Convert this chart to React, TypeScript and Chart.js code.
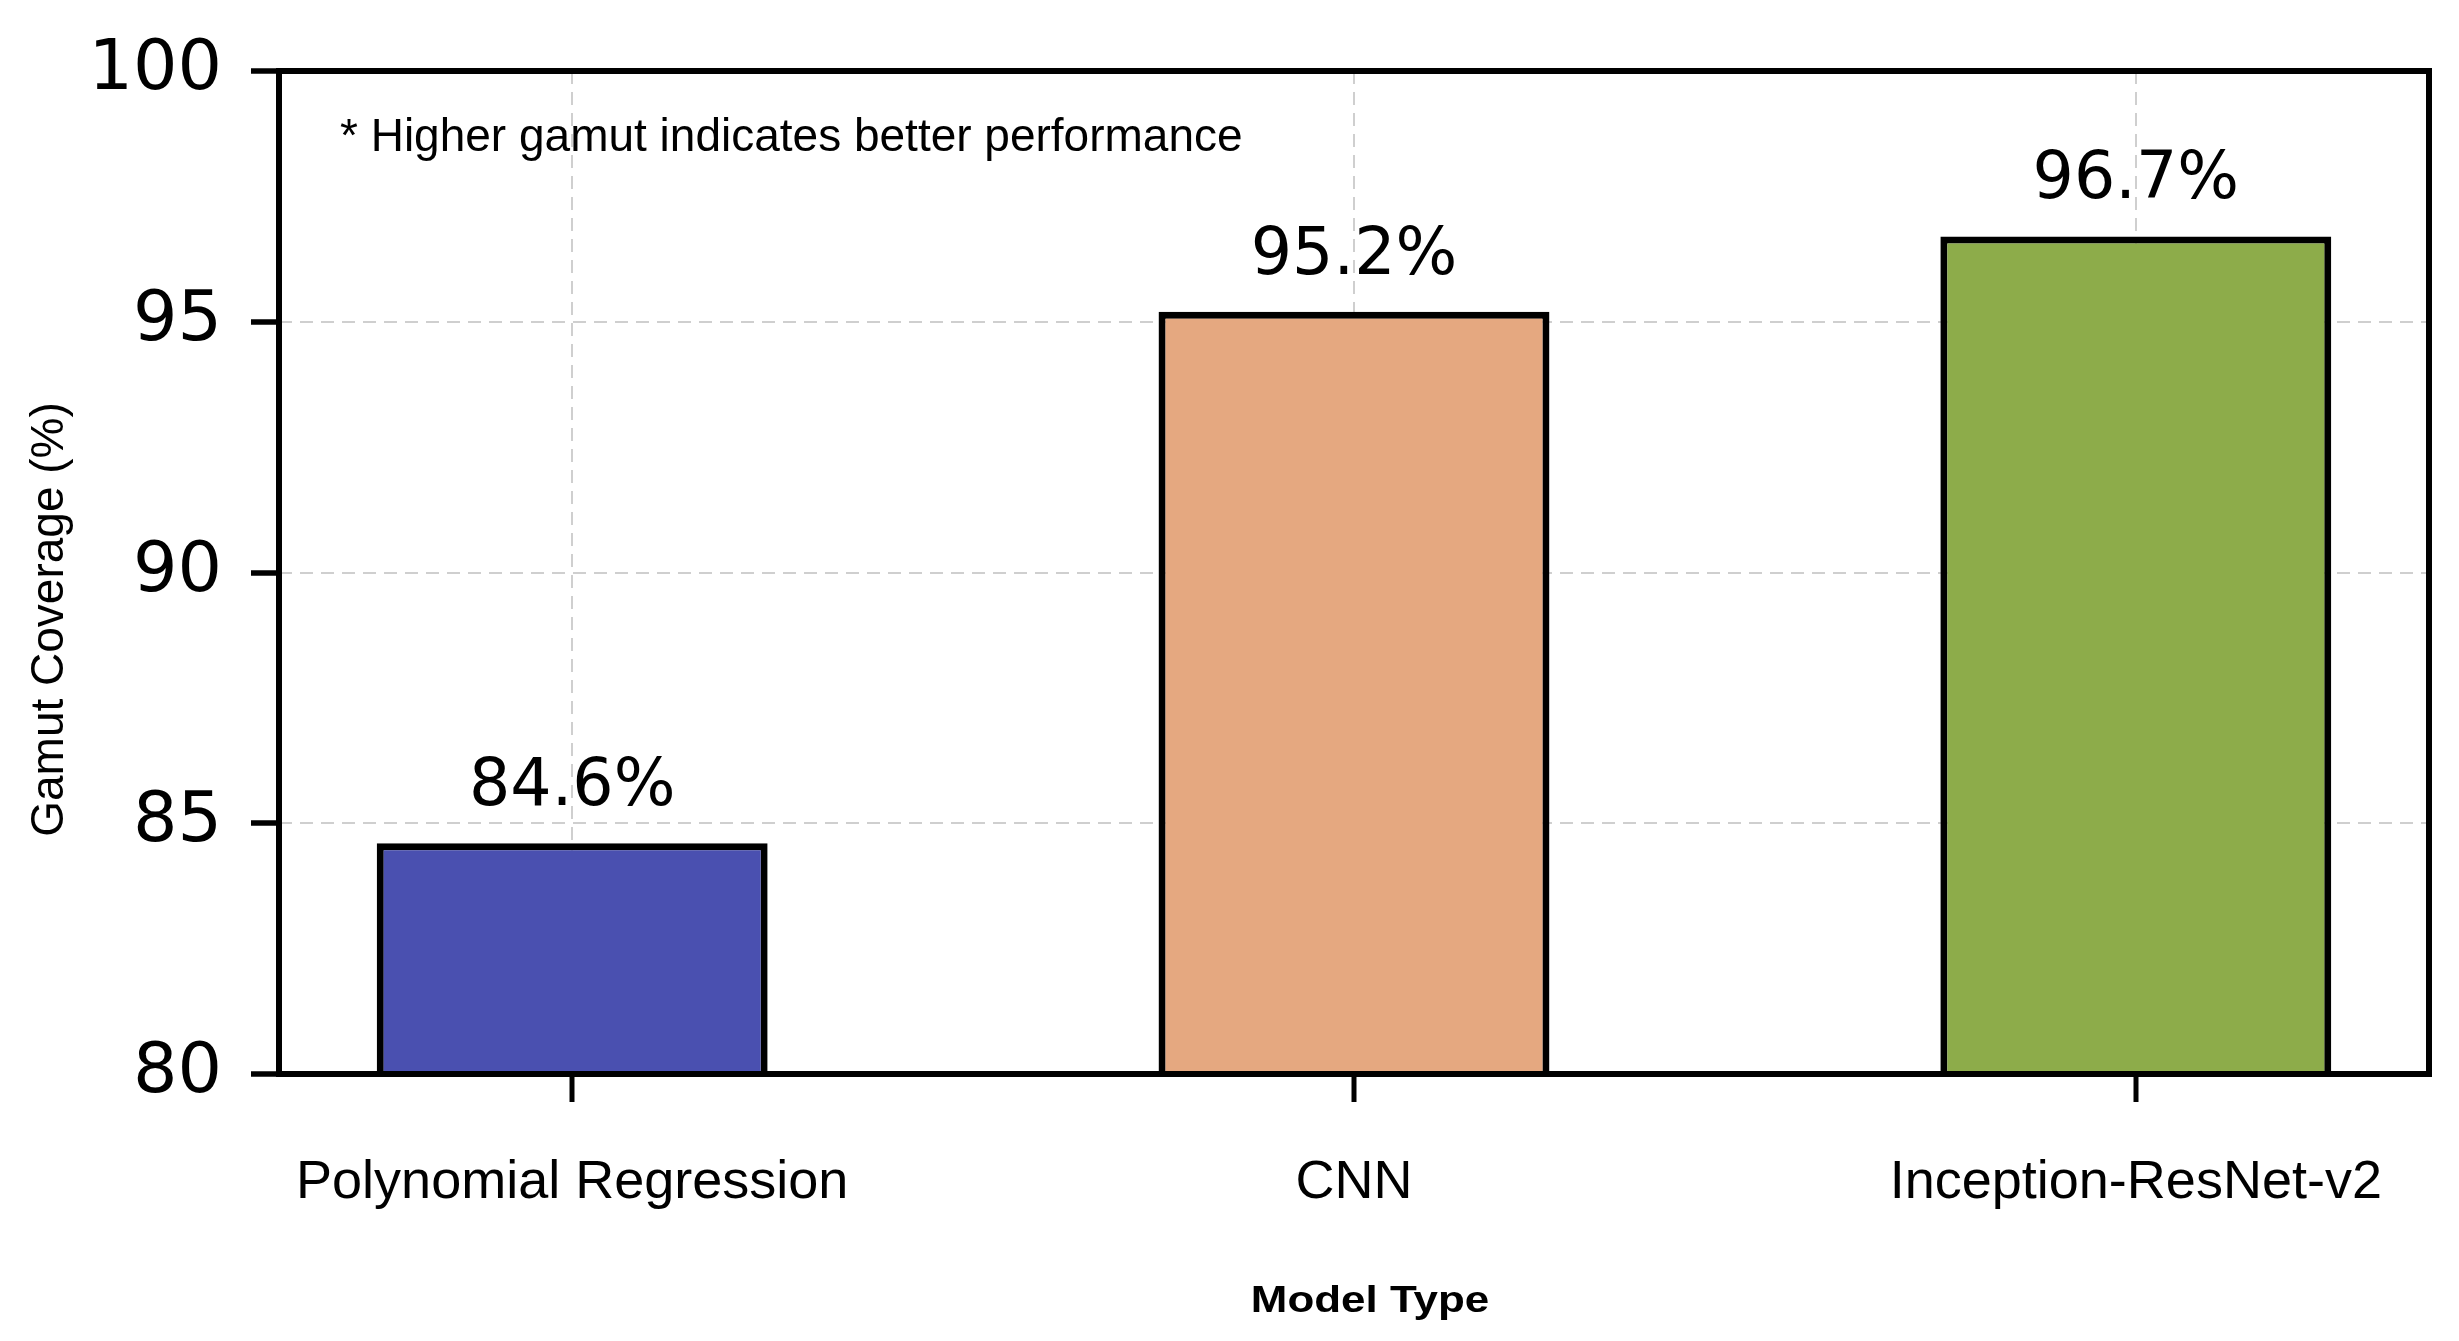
import React, { useEffect, useRef } from "react";
import { Chart, registerables } from "chart.js";

Chart.register(...registerables);

// ---- data ----
const categories = ["Polynomial Regression", "CNN", "Inception-ResNet-v2"];
const coverage = [84.6, 95.2, 96.7];
const barColors = ["#4A50B0", "#E5A880", "#8DAC4A"];
const yTickValues = [80, 85, 90, 95, 100];
const valueLabels = coverage.map((v) => v.toFixed(1) + "%");
const yTitle = "Gamut Coverage (%)";
const xTitle = "Model Type";
const noteText = "* Higher gamut indicates better performance";

const SANS = "'Liberation Sans', Arial, Helvetica, sans-serif";
const DEJAVU = "'DejaVu Sans', sans-serif";

const overlayPlugin = {
  id: "overlay",
  afterDraw(chart: any) {
    const { ctx, chartArea: a } = chart;
    ctx.save();
    // frame
    ctx.strokeStyle = "#000";
    ctx.lineWidth = 6;
    ctx.strokeRect(a.left, a.top, a.right - a.left, a.bottom - a.top);

    // value labels above bars
    const meta = chart.getDatasetMeta(0);
    ctx.fillStyle = "#000";
    ctx.font = `65px ${DEJAVU}`;
    ctx.textAlign = "center";
    ctx.textBaseline = "alphabetic";
    meta.data.forEach((bar: any, i: number) => {
      ctx.fillText(valueLabels[i], bar.x, bar.y - 38);
    });

    // note
    ctx.textAlign = "left";
    ctx.font = `46px ${SANS}`;
    ctx.fillText(noteText, a.left + 61, a.top + 80);

    // y title
    ctx.save();
    ctx.translate(50, (a.top + a.bottom) / 2 + 47);
    ctx.rotate(-Math.PI / 2);
    ctx.textAlign = "center";
    ctx.textBaseline = "middle";
    ctx.font = `46px ${SANS}`;
    ctx.fillText(yTitle, 0, 0);
    ctx.restore();

    // x title
    ctx.save();
    ctx.translate((a.left + a.right) / 2 + 16, a.bottom + 238);
    ctx.scale(1.22, 1);
    ctx.textAlign = "center";
    ctx.textBaseline = "alphabetic";
    ctx.font = `bold 36px ${SANS}`;
    ctx.fillText(xTitle, 0, 0);
    ctx.restore();

    ctx.restore();
  },
};

export default function App() {
  const canvasRef = useRef<HTMLCanvasElement | null>(null);

  useEffect(() => {
    if (!canvasRef.current) return;
    const gridColor = "rgba(160,160,160,0.5)";
    const chart = new Chart(canvasRef.current, {
      type: "bar",
      data: {
        datasets: [
          {
            data: coverage.map((v, i) => ({ x: i, y: v })),
            backgroundColor: barColors,
            borderColor: "#000",
            borderWidth: 7,
            borderSkipped: false,
            barPercentage: 0.5,
            categoryPercentage: 1,
          },
        ],
      },
      options: {
        responsive: true,
        maintainAspectRatio: false,
        animation: false,
        layout: { padding: { top: 65, right: 30, left: 0, bottom: 0 } },
        plugins: {
          legend: { display: false },
          tooltip: { enabled: false },
        },
        scales: {
          x: {
            type: "linear",
            min: -0.375,
            max: 2.375,
            offset: false,
            z: 1,
            afterFit: (s: any) => {
              s.height = 267;
            },
            ticks: {
              stepSize: 1,
              includeBounds: false,
              autoSkip: false,
              maxRotation: 0,
              minRotation: 0,
              padding: 49,
              color: "#000",
              font: { family: SANS, size: 54 },
              callback: (v: any) => categories[Number(v)] ?? "",
            },
            grid: {
              offset: false,
              color: gridColor,
              lineWidth: 2,
              tickColor: "#000",
              tickWidth: 5,
              tickLength: 28,
              tickBorderDash: [],
            },
            border: { display: false, dash: [13, 8] },
          },
          y: {
            min: yTickValues[0],
            max: yTickValues[yTickValues.length - 1],
            z: 1,
            afterFit: (s: any) => {
              s.width = 279;
            },
            afterBuildTicks: (s: any) => {
              s.ticks = yTickValues.map((v) => ({ value: v }));
            },
            ticks: {
              stepSize: 5,
              padding: 29,
              color: "#000",
              font: { family: DEJAVU, size: 70 },
            },
            grid: {
              color: gridColor,
              lineWidth: 2,
              tickColor: "#000",
              tickWidth: 5.5,
              tickLength: 28,
              tickBorderDash: [],
            },
            border: { display: false, dash: [13, 8] },
          },
        },
      } as any,
      plugins: [overlayPlugin],
    });
    return () => chart.destroy();
  }, []);

  return (
    <div
      style={{
        position: "fixed",
        left: 0,
        top: 0,
        width: "2459px",
        height: "1341px",
        background: "#fff",
      }}
    >
      <canvas ref={canvasRef} />
    </div>
  );
}
